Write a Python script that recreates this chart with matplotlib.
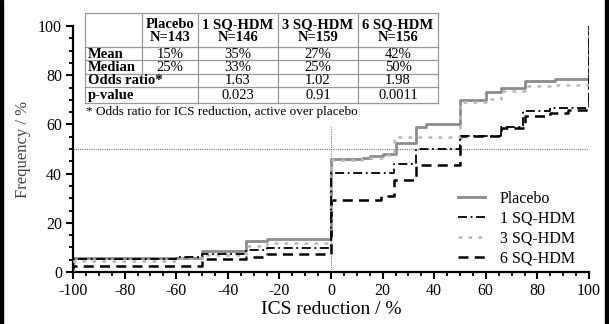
import matplotlib
matplotlib.use('Agg')
from matplotlib import rcParams

rcParams['font.family'] = 'serif'
rcParams['font.serif'] = ['Liberation Serif', 'DejaVu Serif']
rcParams['axes.unicode_minus'] = False
import matplotlib.pyplot as plt
from matplotlib.ticker import MultipleLocator
from matplotlib.lines import Line2D
from matplotlib.patches import Rectangle

# step curves: x where the step starts, y value after the step
placebo_x = [-100, -100, -50, -33, -25, 0, 12, 15, 20, 25, 33, 37, 50, 60, 66, 75, 87, 100]
placebo_y = [0, 5.5, 8.5, 12.7, 13.5, 46, 46.5, 47.2, 47.8, 52.6, 59, 60, 70, 73, 75, 77.6, 78.6, 100]

sq1_x = [-100, -100, -60, -50, -33, -25, 0, 24.4, 33, 50, 66, 74.4, 85, 100]
sq1_y = [0, 5.3, 6.0, 7.5, 9, 9.7, 40.2, 43.8, 49.9, 55.3, 59, 65.6, 66.7, 100]

sq3_x = [-100, -100, -60, -50, -33, -25, 0, 12, 20, 24.4, 50, 60, 66, 75, 85, 100]
sq3_y = [0, 4.3, 5.5, 7, 10.7, 11.7, 45.5, 46.5, 47.5, 55, 69, 70.3, 73.6, 75.7, 76, 100]

sq6_x = [-100, -100, -50, -33, -25, 0, 19.5, 24.5, 33, 50, 66, 75, 85, 92, 100]
sq6_y = [0, 2.5, 5.3, 6.2, 7.3, 29.2, 30.9, 37.4, 43.5, 55.3, 58.5, 63.4, 64.8, 65.9, 100]

col_heads = ['Placebo\nN=143', '1 SQ-HDM\nN=146', '3 SQ-HDM\nN=159', '6 SQ-HDM\nN=156']
row_heads = ['Mean', 'Median', 'Odds ratio*', 'p-value']
cells = [['15%', '35%', '27%', '42%'],
         ['25%', '33%', '25%', '50%'],
         ['', '1.63', '1.02', '1.98'],
         ['', '0.023', '0.91', '0.0011']]


def main():
    W, H = 609, 324
    fig = plt.figure(figsize=(W / 100, H / 100), dpi=100)
    ax = fig.add_axes([73 / W, 1 - 272 / H, 516 / W, 246 / H])

    ax.step(sq6_x, sq6_y, where='post', color='black', linestyle=(0, (4, 2.5)), linewidth=1.8,
            label='6 SQ-HDM', zorder=3)
    ax.step(sq1_x, sq1_y, where='post', color='black', linestyle=(0, (5, 2, 1, 2)), linewidth=1.3,
            label='1 SQ-HDM', zorder=4)
    ax.step(sq3_x, sq3_y, where='post', color='#b8b8b8', linestyle=(0, (1.5, 2.5)), linewidth=1.8,
            label='3 SQ-HDM', zorder=3.5)
    ax.step(placebo_x, placebo_y, where='post', color='#8c8c8c', linestyle='-', linewidth=2.0,
            label='Placebo', zorder=2.5)

    ax.axhline(50, color='#777777', linestyle=(0, (1, 1)), linewidth=0.8, zorder=1)
    ax.axvline(0, ymax=0.59, color='#777777', linestyle=(0, (1, 1)), linewidth=0.8, zorder=1)

    ax.set_xlim(-100, 100)
    ax.set_ylim(0, 100)
    ax.xaxis.set_major_locator(MultipleLocator(20))
    ax.xaxis.set_minor_locator(MultipleLocator(5))
    ax.yaxis.set_major_locator(MultipleLocator(20))
    ax.yaxis.set_minor_locator(MultipleLocator(5))
    for s in ['top', 'right']:
        ax.spines[s].set_visible(False)
    for s in ['left', 'bottom']:
        ax.spines[s].set_linewidth(1.6)
    ax.tick_params(which='major', length=5, width=1.5, labelsize=11.5, direction='out', pad=3)
    ax.tick_params(which='minor', length=3, width=1.3, direction='out')
    ax.set_xlabel('ICS reduction / %', fontsize=14, labelpad=1)
    ax.set_ylabel('Frequency / %', fontsize=12, color='#444444', labelpad=5)

    handles, labels = ax.get_legend_handles_labels()
    order = [3, 1, 2, 0]
    ax.legend([handles[i] for i in order], [labels[i] for i in order],
              loc='upper left', bbox_to_anchor=((458 - 73) / 516, (272 - 191) / 246),
              frameon=False, fontsize=11.5, borderpad=0, borderaxespad=0,
              handlelength=1.7, handletextpad=0.9, labelspacing=0.25)

    # table drawn in pixel space of the figure
    def fx(px):
        return px / W

    def fy(py):
        return 1 - py / H

    cols = [85, 142, 198, 278, 358, 438]
    rows = [13, 47, 60, 74, 87, 103]
    lc = '#999999'
    for i, py in enumerate(rows):
        fig.add_artist(Line2D([fx(cols[0]), fx(cols[-1])], [fy(py), fy(py)], color=lc, lw=0.9))
    for j, px in enumerate(cols):
        if j == 1:
            fig.add_artist(Line2D([fx(px), fx(px)], [fy(rows[0]), fy(rows[3])], color=lc, lw=0.9))
        else:
            fig.add_artist(Line2D([fx(px), fx(px)], [fy(rows[0]), fy(rows[-1])], color=lc, lw=0.9))

    fs = 10.5
    for j, h in enumerate(col_heads):
        fig.text(fx((cols[j + 1] + cols[j + 2]) / 2), fy((rows[0] + rows[1]) / 2 + 1), h,
                 ha='center', va='center', fontsize=fs, fontweight='bold', linespacing=1.05)
    for i, r in enumerate(row_heads):
        fig.text(fx(cols[0] + 3), fy((rows[i + 1] + rows[i + 2]) / 2 + 0.5), r,
                 ha='left', va='center', fontsize=fs, fontweight='bold')
        for j, c in enumerate(cells[i]):
            fig.text(fx((cols[j + 1] + cols[j + 2]) / 2), fy((rows[i + 1] + rows[i + 2]) / 2 + 0.5), c,
                     ha='center', va='center', fontsize=fs)
    fig.text(fx(cols[0] + 1), fy(112), '* Odds ratio for ICS reduction, active over placebo',
             ha='left', va='center', fontsize=9.5)

    # dark frame bars on both sides of the picture
    fig.add_artist(Rectangle((0, 0), 3 / W, 1, transform=fig.transFigure, color='black'))
    fig.add_artist(Rectangle((1 - 4 / W, 0), 4 / W, 1, transform=fig.transFigure, color='black'))

    fig.savefig('out.png', dpi=100)


if __name__ == "__main__":
    main()
